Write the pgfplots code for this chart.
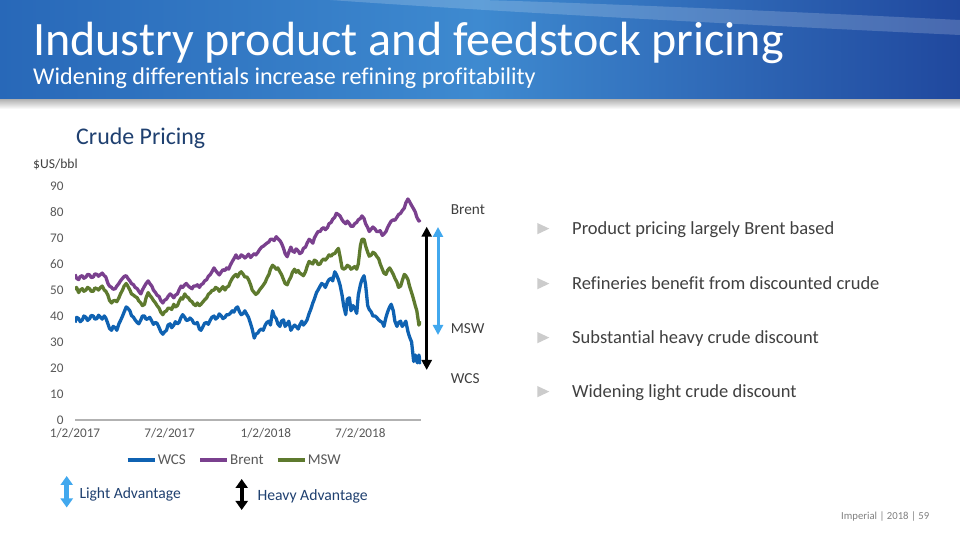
\documentclass[border=0pt]{standalone}
\usepackage{pgfplots}
\pgfplotsset{compat=1.18}
\usepackage{pgfplotstable}
\usepackage{fontspec}
\setmainfont{Carlito}[Ligatures=NoCommon]
\usetikzlibrary{arrows.meta}
\definecolor{wcs}{RGB}{15,98,178}
\definecolor{brent}{RGB}{122,64,142}
\definecolor{msw}{RGB}{94,122,46}
\definecolor{ltblue}{RGB}{65,168,238}
\definecolor{navy}{RGB}{31,64,112}
\definecolor{tickgray}{RGB}{89,89,89}
\definecolor{txtgray}{RGB}{64,64,64}
\definecolor{hdrL}{RGB}{40,104,184}
\definecolor{hdrM}{RGB}{62,138,208}
\definecolor{hdrR}{RGB}{32,72,158}

\pgfplotstableread{
day val
0 37.5
3 39.5
7 39
10 37.8
14 38.5
17 40
21 39.5
24 38.3
28 39
31 40.2
35 40
38 38.8
42 39
45 40.3
49 39.5
52 38.8
56 40
59 39.2
63 37
66 35.2
70 34.5
73 36
77 35.5
80 34.5
84 37
87 38.2
91 40
94 41.5
98 43.5
101 43
105 42
108 40.2
112 39.5
115 38.5
119 37.5
122 37
126 38.5
129 40
133 40
136 38.7
140 39
143 39.5
147 38
150 36.8
154 37.5
157 37.2
161 35.5
164 34
168 33
171 33.8
175 34.5
178 36.5
182 37
185 35.5
189 36.5
192 37.8
196 37
199 37.5
203 39.5
206 40.5
210 39.5
213 38.3
217 38.5
220 39.2
224 38.5
227 37.3
231 37
234 37.5
238 35
241 34.5
245 36
248 37.2
252 37.5
255 36.8
259 38.5
262 39.5
266 40
269 38.8
273 39.5
276 40.8
280 40
283 39
287 39.5
290 40.5
294 40.5
297 41
301 42
304 41.5
308 43
311 43.5
315 41.5
318 40.5
322 41
325 42
329 40.5
332 39.5
336 37
339 35
343 31.5
346 33
350 33.5
353 34.5
357 35
360 34.5
364 36.5
367 37.5
371 38
374 36.5
378 42
381 40
385 39
388 37
392 36
395 38
399 38.5
402 36
406 37
409 38
413 34.5
416 35.5
420 36.5
423 36
427 35
430 36.5
434 38
437 36.5
441 37.5
444 38.5
448 41
451 42.5
455 45
458 46.5
462 49
465 50
469 51.5
472 52.5
476 52
479 51
483 53
486 54
490 54.5
493 53.5
497 57
500 56
504 54
507 52
511 48
514 44
518 40.5
521 46.5
525 47
528 42
532 44
535 43
539 41
542 48
546 52
549 54
553 55.5
556 52
560 44
563 42.5
567 41.5
570 40
574 40
577 39.5
581 38.5
584 38
588 37.5
591 36
595 39.5
598 41.5
602 43.5
605 44.5
609 42
612 38
616 36
619 37.5
623 38
626 36
630 37
633 38
637 34
640 32
644 30
648 22.5
651 25
655 22
658 25
661 21.5
}\wcsdata

\pgfplotstableread{
day val
0 56
3 54.5
7 54
10 55.2
14 55.5
17 54.5
21 55
24 56
28 55.8
31 54.8
35 55
38 56.2
42 56
45 55.3
49 56
52 56.5
56 55.5
59 55
63 52.5
66 51.5
70 51
73 50.3
77 50.5
80 51.5
84 52.5
87 53.5
91 54.5
94 55.2
98 55.5
101 54.5
105 53.5
108 52.5
112 52
115 51
119 50.5
122 49.5
126 48.5
129 50
133 51.5
136 52.5
140 53.5
143 52.5
147 51.5
150 50
154 49
157 48
161 47.5
164 46
168 45
171 46
175 46.5
178 47.5
182 48.5
185 48
189 47
192 48
196 48.5
199 50
203 51.5
206 51
210 52
213 52.5
217 51.5
220 51
224 50.5
227 51.5
231 51.5
234 52
238 51
241 52
245 52.5
248 53.5
252 54
255 55.2
259 56
262 57
266 58.5
269 57.5
273 56.5
276 55.8
280 57
283 57.8
287 57.5
290 58.5
294 58
297 59.5
301 61
304 62
308 63.5
311 62.2
315 62.5
318 63.5
322 63
325 62.3
329 63
332 63.8
336 62.5
339 63.2
343 64
346 63.5
350 64.5
353 65.5
357 66.5
360 66.8
364 67.5
367 68
371 68.5
374 69.5
378 69.5
381 69
385 70.5
388 69.8
392 69
395 68
399 66
402 64
406 62.8
409 64.5
413 66.5
416 65
420 64.5
423 65.8
427 65
430 64
434 64.5
437 66
441 66.5
444 68
448 69.5
451 69
455 68
458 70
462 71.5
465 72.5
469 72.5
472 73.5
476 74
479 73.2
483 74
486 75.5
490 76
493 77.2
497 78
500 79.5
504 79
507 78.5
511 77
514 76.2
518 75.5
521 76.5
525 75.5
528 74.5
532 74.5
535 75.5
539 76
542 77
546 77.5
549 78.5
553 77.5
556 75.5
560 74
563 72.5
567 73.5
570 74.2
574 73.5
577 72.5
581 72.5
584 72.8
588 71
591 71.5
595 72.5
598 74
602 75.5
605 76.5
609 77
612 76.8
616 78
619 79
623 79.5
626 80.5
630 81.5
633 83.5
637 85
640 84
644 82.5
647 81.5
651 80
654 78
658 76.5
661 77
}\brentdata

\pgfplotstableread{
day val
0 50
3 51
7 49
10 50
14 50.5
17 49.5
21 50
24 51
28 50.5
31 49.5
35 49.5
38 50.8
42 50.5
45 50
49 51
52 51.5
56 50
59 49.5
63 48
66 46
70 45
73 45.8
77 46
80 45.5
84 47
87 48.5
91 50
94 51.5
98 52.5
101 51.5
105 50
108 48.5
112 48
115 47.5
119 47
122 45.8
126 45
129 44
133 44.5
136 47
140 49
143 48
147 47
150 46
154 45
157 44
161 43
164 41.5
168 40.5
171 41.5
175 42
178 43
182 43
185 42.5
189 44.5
192 43.5
196 44
199 45.5
203 47
206 46.5
210 48.5
213 47.5
217 47
220 46
224 45.5
227 44.5
231 44
234 45
238 44
241 44.5
245 45.5
248 46.2
252 47
255 48.3
259 49
262 49.8
266 50
269 51
273 50.5
276 49.5
280 50.5
283 51.3
287 50
290 51
294 51.5
297 53
301 54.5
304 55.3
308 56
311 55
315 56.5
318 57
322 56
325 55
329 55
332 54
336 52
339 50
343 49
346 48.3
350 49
353 50
357 51
360 51.8
364 53
367 54.5
371 56
374 58
378 59.5
381 59
385 58
388 58.5
392 57
395 56
399 54
402 52.5
406 52
409 53.5
413 55
416 56.8
420 58
423 56.8
427 57.5
430 56.5
434 56
437 55.5
441 57
444 59
448 61
451 60.5
455 60
458 61.5
462 61
465 59.8
469 60
472 61.2
476 62
479 61.5
483 62.5
486 63.5
490 63
493 63.8
497 64
500 65
504 66
507 63
511 58.5
514 58
518 58.5
521 59.5
525 59
528 58
532 58.5
535 59
539 58
542 60
546 67
549 69.5
553 69.5
556 67
560 64.5
563 63
567 63.5
570 64.5
574 64
577 63
581 62
584 60
588 58
591 56.5
595 56
598 57.5
602 58.5
605 57.5
609 56
612 54.5
616 53
619 51
623 51.5
626 53.5
630 56
633 55.5
637 54
640 51.5
644 49
647 47
651 44
654 42
658 36.5
661 38
}\mswdata

\begin{document}
\begin{tikzpicture}
\begin{scope}[x=1pt,y=1pt]
\fill[white] (0,0) rectangle (960,540);
\shade[left color=hdrL, right color=hdrR, middle color=hdrM] (0,440) rectangle (960,540);
\fill[white,opacity=0.18] (330,540) .. controls (500,528) and (750,515) .. (960,505) -- (960,520) .. controls (760,530) and (560,538) .. (480,540) -- cycle;
\shade[top color=black!28, bottom color=white] (0,431) rectangle (960,440);
\node[anchor=base west, inner sep=0, text=white, font=\fontsize{48}{56}\selectfont] at (33,484) {Industry product and feedstock pricing};
\node[anchor=base west, inner sep=0, text=white, font=\fontsize{24.1}{28}\selectfont] at (33,455) {Widening differentials increase refining profitability};
\node[anchor=base west, inner sep=0, text=navy, font=\fontsize{23.9}{28}\selectfont] at (76,395.7) {Crude Pricing};
\node[anchor=base west, inner sep=0, text=txtgray, font=\fontsize{13.6}{16}\selectfont] at (33,371.7) {\$US/bbl};
% right labels
\node[anchor=base west, inner sep=0, text=txtgray, font=\fontsize{15.3}{18}\selectfont] at (450.7,325) {Brent};
\node[anchor=base west, inner sep=0, text=txtgray, font=\fontsize{15.3}{18}\selectfont] at (450.7,206.7) {MSW};
\node[anchor=base west, inner sep=0, text=txtgray, font=\fontsize{15.3}{18}\selectfont] at (450.7,156.7) {WCS};
% arrows
\draw[black, line width=3pt, {Triangle[width=10pt,length=10pt]}-{Triangle[width=10pt,length=10pt]}] (426.7,313.3) -- (426.7,170);
\draw[ltblue, line width=3pt, {Triangle[width=10pt,length=10pt]}-{Triangle[width=10pt,length=10pt]}] (438,313) -- (438,205);
\draw[ltblue, line width=5pt, {Triangle[width=12pt,length=9pt]}-{Triangle[width=12pt,length=9pt]}] (66.7,64) -- (66.7,32.5);
\draw[black, line width=4pt, {Triangle[width=12pt,length=9pt]}-{Triangle[width=12pt,length=9pt]}] (241.7,61) -- (241.7,30);
\node[anchor=base west, inner sep=0, text=navy, font=\fontsize{15.6}{18}\selectfont] at (79.3,41.7) {Light Advantage};
\node[anchor=base west, inner sep=0, text=navy, font=\fontsize{15.7}{18}\selectfont] at (257.3,39) {Heavy Advantage};
% bullets
\foreach \yb/\t in {305.7/{Product pricing largely Brent based}, 250.7/{Refineries benefit from discounted crude}, 196.7/{Substantial heavy crude discount}, 142.7/{Widening light crude discount}}{
  \fill[black!20] (537.3,\yb+11.3) -- (537.3,\yb) -- (549.3,\yb+5.7) -- cycle;
  \node[anchor=base west, inner sep=0, text=txtgray, font=\fontsize{18.5}{22}\selectfont] at (572,\yb) {\t};
}
\node[anchor=base west, inner sep=0, text=black!50, font=\fontsize{10.7}{13}\selectfont] at (841,20.7) {Imperial | 2018 | 59};
\end{scope}
\begin{axis}[
  at={(75pt,120pt)}, anchor=south west,
  scale only axis, width=346pt, height=234pt,
  xmin=0, xmax=662, ymin=0, ymax=90,
  axis x line*=bottom, axis y line*=left,
  y axis line style={draw=none},
  x axis line style={draw=black!30, line width=1.2pt, -},
  ytick={0,10,...,90},
  xtick={0,181,365,546},
  xticklabels={1/2/2017,7/2/2017,1/2/2018,7/2/2018},
  major tick length=0pt,
  tick label style={font=\fontsize{13.2}{15}\selectfont, text=tickgray},
  /pgf/number format/assume math mode=true,
  yticklabel style={xshift=-8pt},
  xticklabel style={yshift=-5pt},
  legend columns=3,
  legend style={at={(axis description cs:0.46,-0.171)}, anchor=center, draw=none, fill=none,
    font=\fontsize{15}{18}\selectfont, text=tickgray,
    /tikz/every even column/.append style={column sep=11pt},
    nodes={inner xsep=1.5pt}},
  legend image code/.code={\draw[#1, line width=3.3pt] (0pt,0pt) -- (27pt,0pt);},
  every axis plot/.append style={line width=3.3pt, line join=round},
]
\addplot[wcs] table[x=day,y=val] {\wcsdata};
\addlegendentry{WCS}
\addplot[brent] table[x=day,y=val] {\brentdata};
\addlegendentry{Brent}
\addplot[msw] table[x=day,y=val] {\mswdata};
\addlegendentry{MSW}
\end{axis}
\end{tikzpicture}
\end{document}
